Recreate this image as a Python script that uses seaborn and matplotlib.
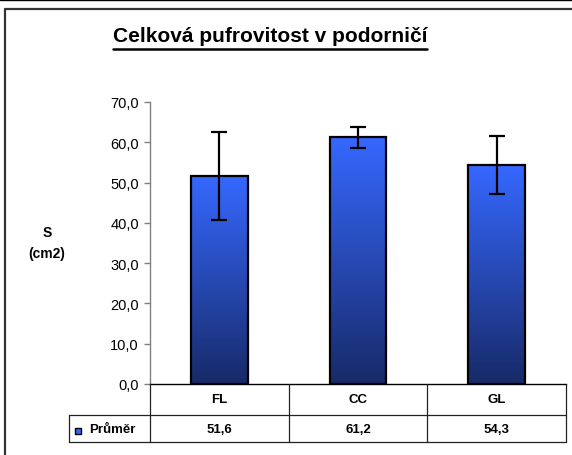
import numpy as np
import pandas as pd
import matplotlib
matplotlib.use("Agg")
import matplotlib.pyplot as plt
import matplotlib.transforms as mtransforms
from matplotlib.lines import Line2D
from matplotlib.patches import Rectangle
import seaborn as sns

# ---- data ----
categories = ["FL", "CC", "GL"]
means = [51.6, 61.2, 54.3]
errors = [10.9, 2.5, 7.2]
value_labels = ["51,6", "61,2", "54,3"]
series_name = "Průměr"
title = "Celková pufrovitost v podorničí"
yticks = [0, 10, 20, 30, 40, 50, 60, 70]

sns.set_style("white")
plt.rcParams["font.family"] = ["Liberation Sans", "DejaVu Sans"]
plt.rcParams["text.color"] = "black"
plt.rcParams["axes.labelcolor"] = "black"
plt.rcParams["ytick.color"] = "black"

W, H = 572, 456
fig = plt.figure(figsize=(W / 100, H / 100), dpi=100)

def fx(x):
    return x / W

def fy(y):
    return (H - y) / H

ax = fig.add_axes([fx(150), fy(385), fx(566) - fx(150), fy(103) - fy(385)])

df = pd.DataFrame({"cat": categories, "mean": means})
sns.barplot(data=df, x="cat", y="mean", errorbar=None, width=0.41,
            color="#3366ff", edgecolor="black", linewidth=1.6, ax=ax, zorder=2)

ax.set_xlim(-0.5, 2.5)
ax.set_ylim(0, 70)

# gradient fill
top = np.array([0x36, 0x68, 0xff]) / 255
bot = np.array([0x17, 0x2a, 0x68]) / 255
grad = np.linspace(0, 1, 256)[:, None]
img = top[None, None, :] * (1 - grad[:, :, None]) + bot[None, None, :] * grad[:, :, None]
for p in ax.patches:
    x0, y0 = p.get_x(), p.get_y()
    w, h = p.get_width(), p.get_height()
    im = ax.imshow(img, extent=[x0, x0 + w, y0, y0 + h], aspect="auto",
                   origin="upper", zorder=1.5, interpolation="bilinear")
    im.set_clip_path(p)
    p.set_facecolor("none")
ax.set_xlim(-0.5, 2.5)
ax.set_ylim(0, 70)

ax.errorbar(range(len(categories)), means, yerr=errors, fmt="none",
            ecolor="black", elinewidth=1.6, capsize=5.5, capthick=1.6, zorder=3)

# axes styling
for s in ["top", "right"]:
    ax.spines[s].set_visible(False)
ax.spines["left"].set_color("#808080")
ax.spines["left"].set_linewidth(1.0)
ax.spines["bottom"].set_color("black")
ax.spines["bottom"].set_linewidth(1.0)
ax.set_yticks(yticks)
ax.set_yticklabels([f"{v:.1f}".replace(".", ",") for v in yticks])
ax.tick_params(axis="y", direction="out", length=4, width=1, color="#808080",
               labelsize=10.5, labelcolor="black", pad=4, left=True)
ax.tick_params(axis="x", bottom=False, labelbottom=False)
ax.set_xlabel("")
ax.set_ylabel("")

# table
bt = mtransforms.blended_transform_factory(ax.transData, fig.transFigure)
lc = "#222222"
lw = 0.9
fig.add_artist(Line2D([-0.5, 2.5], [fy(416), fy(416)], transform=bt, color=lc, lw=lw))
fig.add_artist(Line2D([fx(69), fx(150)], [fy(416), fy(416)], transform=fig.transFigure, color=lc, lw=lw))
fig.add_artist(Line2D([fx(69), fx(566)], [fy(443), fy(443)], transform=fig.transFigure, color=lc, lw=lw))
for xd in [-0.5, 0.5, 1.5, 2.5]:
    fig.add_artist(Line2D([xd, xd], [fy(385), fy(443)], transform=bt, color=lc, lw=lw))
fig.add_artist(Line2D([fx(69), fx(69)], [fy(416), fy(443)], transform=fig.transFigure, color=lc, lw=lw))

for i, (c, v) in enumerate(zip(categories, value_labels)):
    fig.text(i, fy(400.5), c, transform=bt, ha="center", va="center",
             fontsize=9.5, fontweight="bold")
    fig.text(i, fy(430), v, transform=bt, ha="center", va="center",
             fontsize=9.5, fontweight="bold")

# legend key in table
fig.add_artist(Rectangle((fx(75), fy(435)), fx(81) - fx(75), fy(429) - fy(435),
                         transform=fig.transFigure, facecolor="#3366ff",
                         edgecolor="black", lw=1.0))
fig.text(fx(89), fy(430.5), series_name, ha="left", va="center",
         fontsize=9.5, fontweight="bold")

# y label
fig.text(fx(47), fy(233), "S", ha="center", va="center", fontsize=10, fontweight="bold")
fig.text(fx(47), fy(254), "(cm2)", ha="center", va="center", fontsize=10, fontweight="bold")

# title with underline
t = fig.text(fx(270), fy(37), title, ha="center", va="center",
             fontsize=15, fontweight="bold")
fig.canvas.draw()
bb = t.get_window_extent(renderer=fig.canvas.get_renderer())
fig.add_artist(Line2D([bb.x0 / W, bb.x1 / W], [fy(49.5), fy(49.5)],
                      transform=fig.transFigure, color="black", lw=1.8))

# outer frame
fig.add_artist(Line2D([fx(5), fx(5), fx(575)], [fy(460), fy(9.5), fy(9.5)],
                      transform=fig.transFigure, color="#333333", lw=1.6))
fig.add_artist(Line2D([0, 1], [fy(0.5), fy(0.5)], transform=fig.transFigure,
                      color="black", lw=1.0))

fig.savefig("out.png", dpi=100)
